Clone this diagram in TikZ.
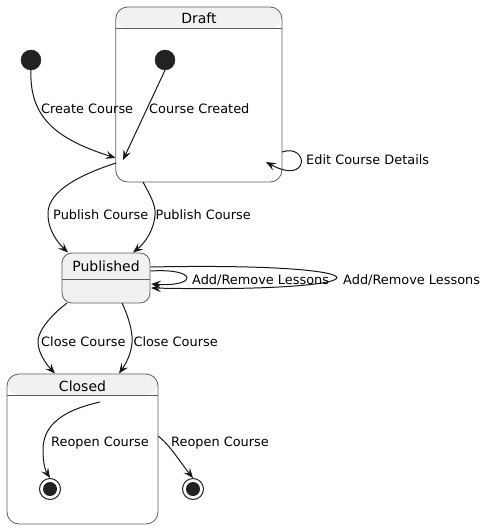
\documentclass[tikz,border=0pt]{standalone}
\usepackage{fontspec}
\setmainfont{DejaVu Sans}
\usetikzlibrary{arrows.meta}
\definecolor{ink}{HTML}{181818}
\definecolor{hdr}{HTML}{F1F1F1}
\definecolor{brd}{HTML}{5E5E5E}
\definecolor{dot}{HTML}{222222}
\begin{document}
\begin{tikzpicture}[x=1pt,y=-1pt,
  statebox/.style={draw=brd,line width=0.8pt,rounded corners=12pt,inner sep=0pt,outer sep=0pt,fill=white},
  hdrbox/.style={statebox,path picture={\fill[hdr] (path picture bounding box.north west) rectangle ([yshift=-#1]path picture bounding box.north east);}},
  simplebox/.style={draw=brd,line width=0.8pt,rounded corners=10pt,inner sep=0pt,outer sep=0pt,fill=hdr},
  sep/.style={draw=brd,line width=0.8pt},
  sname/.style={font=\fontsize{14}{16}\selectfont,inner sep=0pt,anchor=base,text=black},
  lbl/.style={font=\fontsize{12.9}{15}\selectfont,inner sep=0pt,anchor=base west,text=black},
  conn/.style={draw=ink,line width=1pt,-{Stealth[length=10pt,width=8pt,inset=4pt]}},
  initst/.style={circle,fill=dot,draw=dot,minimum size=20pt,inner sep=0pt},
  finalst/.style={circle,draw=dot,line width=1pt,fill=white,minimum size=21pt,inner sep=0pt,
     path picture={\fill[dot] (path picture bounding box.center) circle (7pt);}}
]
\useasboundingbox (0,0) rectangle (493,529);

% Draft
\node[hdrbox=21.5pt,minimum width=166.3pt,minimum height=175pt] (draftbox) at (198.85,94.5) {};
\draw[sep] (115.7,28.5) -- (282,28.5);
\node[sname] (draft) at (199,24) {Draft};

% Published
\node[simplebox,minimum width=88pt,minimum height=50pt] (pubbox) at (106,278) {};
\draw[sep] (62,279) -- (150,279);
\node[sname] (pub) at (106,271.7) {Published};

% Closed
\node[hdrbox=21pt,minimum width=151pt,minimum height=150pt] (closedbox) at (82.5,449) {};
\draw[sep] (7,395) -- (158,395);
\node[sname] (closed) at (82.5,391) {Closed};

% initial / final states
\node[initst] (init1) at (31,60) {};
\node[initst] (init2) at (165,60) {};
\node[finalst] (fin1) at (50,489) {};
\node[finalst] (fin2) at (193,489) {};

% endpoints
\coordinate (draftin) at (115.5,158);
\coordinate (draftin2) at (123,160);
\coordinate (loopA) at (282,152);
\coordinate (loopB) at (266,162);
\coordinate (draftoutL) at (116,163);
\coordinate (draftoutR) at (143,182);
\coordinate (pubinL) at (68,252.5);
\coordinate (pubinR) at (133,252.5);
\coordinate (pubA1) at (150.5,271);
\coordinate (pubA2) at (151,284);
\coordinate (pubB1) at (150.5,267);
\coordinate (pubB2) at (151,288);
\coordinate (puboutL) at (67,303);
\coordinate (puboutR) at (122,303);
\coordinate (clinL) at (55,373.5);
\coordinate (clinR) at (119,373.5);
\coordinate (clstart) at (100,402);
\coordinate (clout) at (158,436);

% connectors
\draw[conn] (init1.south) .. controls (29,120) and (60,140) .. (draftin);
\draw[conn] (init2.south) -- (draftin2);
\draw[conn] (loopA) .. controls (309,143) and (310,186) .. (loopB);
\draw[conn] (draftoutL) .. controls (70,178) and (47,195) .. (48,215) .. controls (48,230) and (58,243) .. (pubinL);
\draw[conn] (draftoutR) .. controls (150,195) and (156,205) .. (155,215) .. controls (154,230) and (145,243) .. (pubinR);
\draw[conn] (pubA1) .. controls (198,268) and (198,287) .. (pubA2);
\draw[conn] (pubB1) .. controls (398,262) and (398,293) .. (pubB2);
\draw[conn] (puboutL) .. controls (45,320) and (37,335) .. (38,343) .. controls (39,355) and (47,365) .. (clinL);
\draw[conn] (puboutR) .. controls (130,320) and (133,335) .. (132,343) .. controls (131,355) and (125,365) .. (clinR);
\draw[conn] (clstart) .. controls (55,412) and (43,430) .. (43,450) .. controls (43,462) and (45,470) .. (fin1.north);
\draw[conn] (clout) .. controls (170,445) and (180,462) .. (fin2.north);

% labels
\node[lbl] (l1) at (41,114) {Create Course};
\node[lbl] (l2) at (149,114) {Course Created};
\node[lbl] (l3) at (306,165) {Edit Course Details};
\node[lbl] (l4) at (53,219) {Publish Course};
\node[lbl] (l5) at (155.5,219) {Publish Course};
\node[lbl] (l6) at (192,284) {Add/Remove Lessons};
\node[lbl] (l7) at (343,284) {Add/Remove Lessons};
\node[lbl] (l8) at (41,346.7) {Close Course};
\node[lbl] (l9) at (133.3,346.7) {Close Course};
\node[lbl] (l10) at (51,446) {Reopen Course};
\node[lbl] (l11) at (171,446) {Reopen Course};
\end{tikzpicture}
\end{document}
